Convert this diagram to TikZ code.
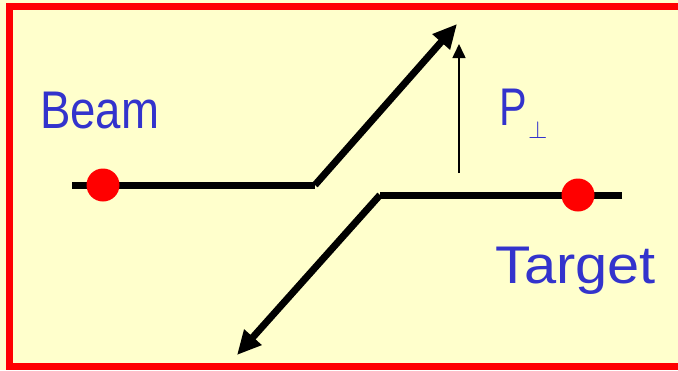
\documentclass[tikz,border=0pt]{standalone}
\usepackage{fontspec}
\setmainfont{Liberation Sans}
\usetikzlibrary{arrows.meta}
\definecolor{bgyellow}{RGB}{255,255,204}
\definecolor{framered}{RGB}{255,0,0}
\definecolor{txtblue}{RGB}{51,51,204}
\tikzset{
  track/.style={line width=7pt, black, line join=miter},
  bigarrow/.style={track, -{Triangle[length=24pt,width=22pt]}},
  thinarrow/.style={line width=1.6pt, black, -{Triangle[length=14pt,width=13pt]}},
  dot/.style={circle, fill=framered, draw=none, minimum size=33pt, inner sep=0pt},
  label/.style={txtblue, font=\fontsize{53}{60}\selectfont, inner sep=0pt, anchor=base west},
}
\begin{document}
\begin{tikzpicture}[x=1pt,y=-1pt]
\useasboundingbox (0,0) rectangle (678,370);
\fill[bgyellow] (0,0) rectangle (678,370);
\begin{scope}
\clip (0,0) rectangle (678,370);
\draw[framered, line width=7pt] (9.5,6.5) rectangle (700,366.5);
\end{scope}
% coordinates
\coordinate (bL) at (72,185);
\coordinate (bK) at (315,185);
\coordinate (bT) at (457,24);
\coordinate (tR) at (622,195);
\coordinate (tK) at (380,195);
\coordinate (tT) at (237,355);
\coordinate (pS) at (459,173);
\coordinate (pT) at (459,44);
% tracks
\draw[track] (bL) -- (bK);
\draw[bigarrow] (bK) -- (bT);
\draw[track] (tR) -- (tK);
\draw[bigarrow] (tK) -- (tT);
\draw[thinarrow] (pS) -- (pT);
% dots
\node[dot] (beamdot) at (103,185) {};
\node[dot] (targetdot) at (578,195) {};
% labels
\node[label] (beam) at (40,128) {\scalebox{0.86}[1]{Beam}};
\node[label] (target) at (495,283) {\scalebox{1.09}[1]{Target}};
\node[label] (p) at (499,125) {\scalebox{0.78}[1]{P}};
\node[txtblue, inner sep=0pt, anchor=base west] (perp) at (528,138) {\fontsize{27}{30}\selectfont$\perp$};
\end{tikzpicture}
\end{document}
